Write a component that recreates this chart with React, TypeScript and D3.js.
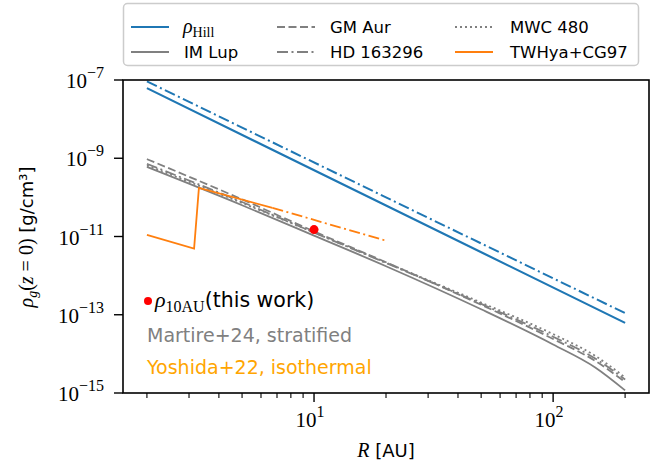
import * as d3 from "d3";
import { useEffect } from "react";

// gray curves (Martire+24), sampled at these radii
const R_GRAY = [2, 5, 10, 20, 50, 100, 150, 200];
const IM_LUP = [6.0e-10, 6.3e-11, 1.05e-11, 1.74e-12, 1.38e-13, 1.74e-14, 4.5e-15, 1.17e-15];
const GM_AUR = [9.5e-10, 8.9e-11, 1.35e-11, 2.2e-12, 1.8e-13, 2.4e-14, 6.6e-15, 1.9e-15];
const HD_163296 = [7.2e-10, 7.6e-11, 1.26e-11, 2.1e-12, 1.9e-13, 2.75e-14, 7.6e-15, 2.2e-15];
const MWC_480 = [6.6e-10, 7.2e-11, 1.26e-11, 2.15e-12, 2.05e-13, 3.2e-14, 8.9e-15, 2.5e-15];

// Hill density
const R_HILL = [2, 20, 200];
const HILL = [6.2e-8, 6.2e-11, 6.2e-14];
const HILL_DD = [9.2e-8, 1.0e-10, 1.1e-13];

// Yoshida+22 (TWHya+CG97)
const R_TW = [2, 3.15, 3.3, 6.7];
const TW = [1.1e-11, 4.9e-12, 1.75e-10, 5.4e-11];
const R_TW_EXT = [6.7, 20];
const TW_EXT = [5.4e-11, 7.8e-12];

// this work
const R_10AU = 10;
const RHO_10AU = 1.5e-11;

const Y_TICKS = [-7, -9, -11, -13, -15];
const X_TICKS = [1, 2];

const BLUE = "#1f77b4";
const GRAY = "#808080";
const ORANGE = "#ff7f0e";

const SERIF = "'Liberation Serif', serif";
const SANS = "'DejaVu Sans', sans-serif";

const W = 651;
const H = 463;
const box = { left: 123, right: 649, top: 80, bottom: 393 };

const x = d3
  .scaleLog()
  .domain([Math.pow(10, 0.201), Math.pow(10, 2.401)])
  .range([box.left, box.right]);
const y = d3.scaleLog().domain([1e-15, 1e-7]).range([box.bottom, box.top]);

const pts = (rs: number[], vs: number[]) => rs.map((r, i) => [r, vs[i]] as [number, number]);

const lineStraight = d3
  .line<[number, number]>()
  .x((d) => x(d[0]))
  .y((d) => y(d[1]));
const lineSmooth = d3
  .line<[number, number]>()
  .x((d) => x(d[0]))
  .y((d) => y(d[1]))
  .curve(d3.curveMonotoneX);

const DASH = "8,3.5";
const DASHDOT = "11,3.5,2,3.5";
const DOT = "2,3";

export default function App() {
  useEffect(() => {
    document.body.style.margin = "0";
  }, []);

  const minorTicks: number[] = [];
  for (const dec of [1, 10, 100]) {
    for (let k = 2; k <= 9; k++) {
      const v = dec * k;
      if (v >= x.domain()[0] && v <= x.domain()[1]) minorTicks.push(v);
    }
  }

  const gray = [
    { v: IM_LUP, dash: "none" },
    { v: GM_AUR, dash: DASH },
    { v: HD_163296, dash: DASHDOT },
    { v: MWC_480, dash: DOT },
  ];

  const legend = [
    { col: 0, row: 0, color: BLUE, dash: "none", label: "hill" },
    { col: 0, row: 1, color: GRAY, dash: "none", label: "IM Lup" },
    { col: 1, row: 0, color: GRAY, dash: DASH, label: "GM Aur" },
    { col: 1, row: 1, color: GRAY, dash: DASHDOT, label: "HD 163296" },
    { col: 2, row: 0, color: GRAY, dash: DOT, label: "MWC 480" },
    { col: 2, row: 1, color: ORANGE, dash: "none", label: "TWHya+CG97" },
  ];
  const colX = [131, 277, 455];
  const rowY = [27, 52];

  return (
    <svg width={W} height={H} style={{ display: "block" }}>
      <rect width={W} height={H} fill="#fff" />
      <defs>
        <clipPath id="plot">
          <rect x={box.left} y={box.top} width={box.right - box.left} height={box.bottom - box.top} />
        </clipPath>
      </defs>

      <g clipPath="url(#plot)" fill="none">
        <path d={lineStraight(pts(R_HILL, HILL_DD)) || ""} stroke={BLUE} strokeWidth={2} strokeDasharray={DASHDOT} />
        <path d={lineStraight(pts(R_HILL, HILL)) || ""} stroke={BLUE} strokeWidth={2.2} />
        {gray.map((g, i) => (
          <path
            key={i}
            d={lineSmooth(pts(R_GRAY, g.v)) || ""}
            stroke={GRAY}
            strokeWidth={1.8}
            strokeDasharray={g.dash}
          />
        ))}
        <path d={lineStraight(pts(R_TW, TW)) || ""} stroke={ORANGE} strokeWidth={1.8} />
        <path d={lineStraight(pts(R_TW_EXT, TW_EXT)) || ""} stroke={ORANGE} strokeWidth={1.8} strokeDasharray={DASHDOT} />
        <circle cx={x(R_10AU)} cy={y(RHO_10AU)} r={4.5} fill="red" />
      </g>

      {/* annotations */}
      <circle cx={148} cy={301} r={4} fill="red" />
      <text x={155} y={307} fontSize={22} fill="#000">
        <tspan fontFamily={SERIF} fontStyle="italic">ρ</tspan>
        <tspan fontFamily={SERIF} fontSize={16} dy={5}>10AU</tspan>
        <tspan fontFamily={SANS} fontSize={20.5} dy={-5}>(this work)</tspan>
      </text>
      <text x={147} y={342} fontFamily={SANS} fontSize={19} fill={GRAY}>
        Martire+24, stratified
      </text>
      <text x={147} y={374} fontFamily={SANS} fontSize={19} fill="#ffa500">
        Yoshida+22, isothermal
      </text>

      {/* axes frame */}
      <rect
        x={box.left}
        y={box.top}
        width={box.right - box.left}
        height={box.bottom - box.top}
        fill="none"
        stroke="#000"
        strokeWidth={1.6}
      />

      {/* y ticks */}
      {Y_TICKS.map((e) => (
        <g key={e}>
          <line x1={box.left - 9} x2={box.left} y1={y(Math.pow(10, e))} y2={y(Math.pow(10, e))} stroke="#000" strokeWidth={1.4} />
          <text x={104} y={y(Math.pow(10, e)) + 8} textAnchor="end" fontFamily={SERIF} fontSize={21}>
            10
            <tspan fontSize={16} dy={-10}>{"\u2212" + Math.abs(e)}</tspan>
          </text>
        </g>
      ))}

      {/* x ticks */}
      {minorTicks.map((v) => (
        <line key={v} x1={x(v)} x2={x(v)} y1={box.bottom} y2={box.bottom + 5} stroke="#000" strokeWidth={1.1} />
      ))}
      {X_TICKS.map((e) => (
        <g key={e}>
          <line x1={x(Math.pow(10, e))} x2={x(Math.pow(10, e))} y1={box.bottom} y2={box.bottom + 9} stroke="#000" strokeWidth={1.4} />
          <text x={x(Math.pow(10, e)) - 4} y={427} textAnchor="middle" fontFamily={SERIF} fontSize={21}>
            10
            <tspan fontSize={16} dy={-10}>{e}</tspan>
          </text>
        </g>
      ))}

      {/* axis labels */}
      <text x={386} y={457} textAnchor="middle" fontSize={20}>
        <tspan fontFamily={SERIF} fontStyle="italic">R</tspan>
        <tspan fontFamily={SANS} fontSize={18}> [AU]</tspan>
      </text>
      <text transform={`translate(33,237) rotate(-90)`} textAnchor="middle" fontSize={20}>
        <tspan fontFamily={SERIF} fontStyle="italic">ρ</tspan>
        <tspan fontFamily={SERIF} fontStyle="italic" fontSize={14} dy={4}>g</tspan>
        <tspan fontFamily={SERIF} dy={-4}>(</tspan>
        <tspan fontFamily={SERIF} fontStyle="italic">z</tspan>
        <tspan fontFamily={SERIF}> = 0)</tspan>
        <tspan fontFamily={SANS} fontSize={18}>  [g/cm³]</tspan>
      </text>

      {/* legend */}
      <rect x={123.5} y={3.5} width={515} height={62} rx={4} fill="#fff" stroke="#ccc" strokeWidth={1.5} />
      {legend.map((l, i) => (
        <g key={i}>
          <line
            x1={colX[l.col]}
            x2={colX[l.col] + 38}
            y1={rowY[l.row]}
            y2={rowY[l.row]}
            stroke={l.color}
            strokeWidth={1.8}
            strokeDasharray={l.dash}
          />
          {l.label === "hill" ? (
            <text x={colX[l.col] + 52} y={rowY[l.row] + 6} fontFamily={SERIF} fontSize={20}>
              <tspan fontStyle="italic">ρ</tspan>
              <tspan fontSize={14} dy={4}>Hill</tspan>
            </text>
          ) : (
            <text x={colX[l.col] + (l.col === 2 ? 55 : 53)} y={rowY[l.row] + 6} fontFamily={SANS} fontSize={16.5}>
              {l.label}
            </text>
          )}
        </g>
      ))}
    </svg>
  );
}
